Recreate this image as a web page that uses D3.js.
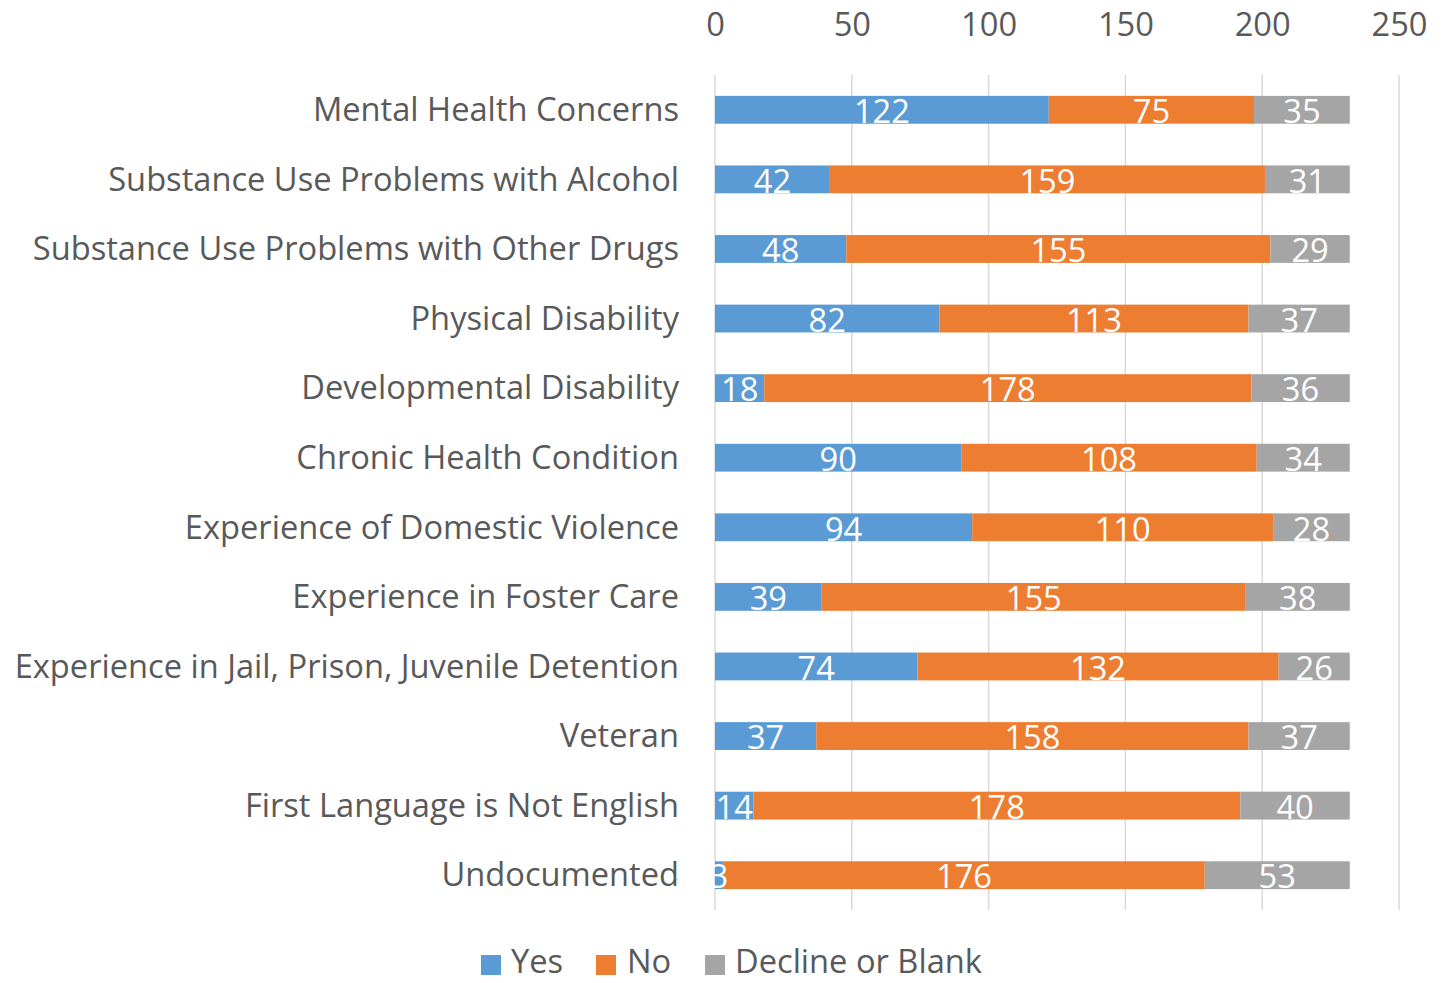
<!DOCTYPE html>
<html><head><meta charset="utf-8">
<script src="https://cdn.jsdelivr.net/npm/d3@7"></script>
<style>body{margin:0;background:#fff;} text{font-family:"Open Sans",sans-serif;}</style>
</head><body>
<svg id="c" width="1444" height="983"></svg>
<script>
const categories = ["Mental Health Concerns","Substance Use Problems with Alcohol","Substance Use Problems with Other Drugs","Physical Disability","Developmental Disability","Chronic Health Condition","Experience of Domestic Violence","Experience in Foster Care","Experience in Jail, Prison, Juvenile Detention","Veteran","First Language is Not English","Undocumented"];
const yesValues = [122,42,48,82,18,90,94,39,74,37,14,3];
const noValues = [75,159,155,113,178,108,110,155,132,158,178,176];
const declineValues = [35,31,29,37,36,34,28,38,26,37,40,53];
const seriesNames = ["Yes","No","Decline or Blank"];
const colors = ["#5B9BD5","#ED7D31","#A5A5A5"];
const tickValues = [0,50,100,150,200,250];

const svg = d3.select("#c");
const SX = 1.02;
const FS = "32px";
const x = d3.scaleLinear().domain([0,250]).range([715,1399]);
const y = d3.scaleBand().domain(categories).range([75,910]).paddingInner(0.6).paddingOuter(0.3);

// gridlines
svg.append("g").selectAll("line").data(tickValues).join("line")
  .attr("x1",d=>x(d)).attr("x2",d=>x(d)).attr("y1",75).attr("y2",910)
  .attr("stroke","#D9D9D9").attr("stroke-width",1.5);

// top axis labels
const ax = svg.append("g").attr("transform","translate(0,25)").call(d3.axisTop(x).tickValues(tickValues).tickSize(0).tickPadding(0));
ax.select(".domain").remove();
ax.selectAll(".tick text").attr("fill","#595959").style("font-size",FS).attr("dy","0.35em")
  .attr("transform",`scale(${SX},1)`);

// stack
const rows = categories.map((c,i)=>({cat:c,Yes:yesValues[i],No:noValues[i],"Decline or Blank":declineValues[i]}));
const stack = d3.stack().keys(seriesNames)(rows);
const layer = svg.append("g").selectAll("g").data(stack).join("g").attr("fill",(d,i)=>colors[i]);
layer.selectAll("rect").data(d=>d).join("rect")
  .attr("x",d=>x(d[0])).attr("width",d=>x(d[1])-x(d[0]))
  .attr("y",d=>y(d.data.cat)).attr("height",y.bandwidth());

// bar labels
const lab = svg.append("g");
stack.forEach((s,si)=>{
  s.forEach(d=>{
    const cx=(x(d[0])+x(d[1]))/2, cy=y(d.data.cat)+y.bandwidth()/2+2;
    lab.append("text").attr("transform",`translate(${cx},${cy}) scale(${SX},1)`)
      .attr("text-anchor","middle").attr("dy","0.35em").attr("fill","#fff")
      .style("font-size",FS).text(d[1]-d[0]);
  });
});

// category labels
svg.append("g").selectAll("text").data(categories).join("text")
  .attr("transform",d=>`translate(679,${y(d)+y.bandwidth()/2}) scale(${SX},1)`)
  .attr("text-anchor","end").attr("dy","0.35em").attr("fill","#595959")
  .style("font-size",FS).text(d=>d);

// legend
const legItems = [{n:"Yes",sx:481,tx:511},{n:"No",sx:596,tx:627},{n:"Decline or Blank",sx:705,tx:735}];
const leg = svg.append("g");
legItems.forEach((it,i)=>{
  leg.append("rect").attr("x",it.sx).attr("y",955).attr("width",20).attr("height",20).attr("fill",colors[seriesNames.indexOf(it.n)]);
  leg.append("text").attr("transform",`translate(${it.tx},962) scale(${SX},1)`).attr("dy","0.35em")
    .attr("fill","#595959").style("font-size",FS).text(it.n);
});
</script>
</body></html>
